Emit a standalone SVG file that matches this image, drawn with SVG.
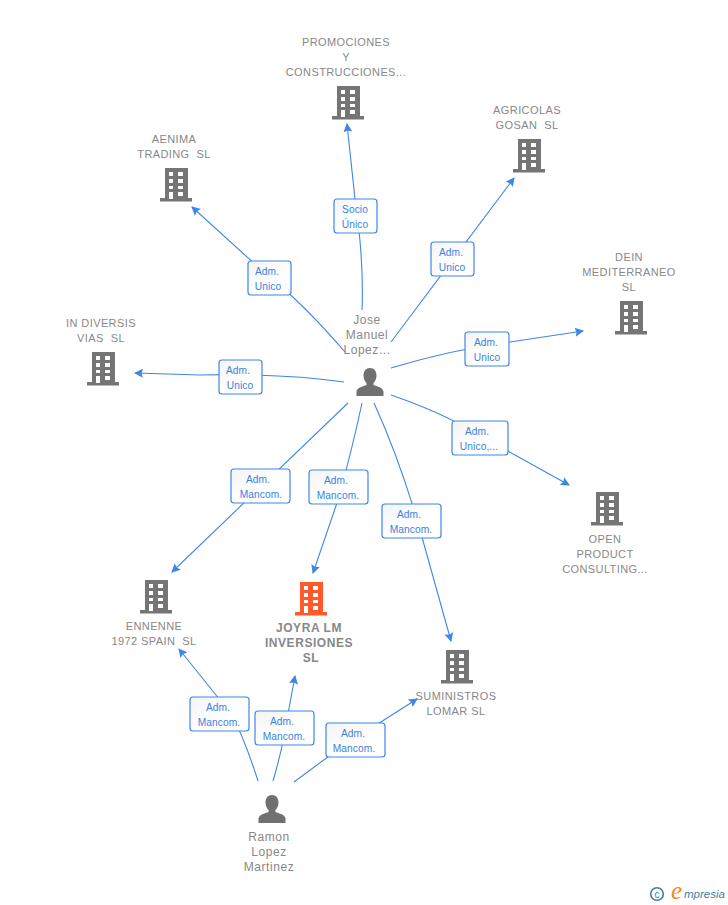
<svg xmlns="http://www.w3.org/2000/svg" width="728" height="905" viewBox="0 0 728 905">
<style>
text{font-family:"Liberation Sans",Arial,sans-serif;white-space:pre}
.n{font-size:11px;fill:#888;text-anchor:middle;letter-spacing:.4px}
.h{font-size:12px;fill:#888;text-anchor:middle;letter-spacing:.55px}
.b{font-size:12px;font-weight:bold;fill:#888;text-anchor:middle;letter-spacing:.55px}
.l{font-size:10.2px;fill:#3b7fe0;text-anchor:middle;letter-spacing:.1px;transform:translateY(-.5px)}
.c{fill:none;stroke:#3f86e6;stroke-width:1.1;marker-end:url(#a)}
.r{fill:url(#g);stroke:#3f86e6;stroke-width:1.2}
</style>
<defs>
<linearGradient id="g" x1="0" y1="0" x2="1" y2="1"><stop offset="0" stop-color="#f4f4f4"/><stop offset=".55" stop-color="#fff"/><stop offset="1" stop-color="#fff"/></linearGradient>
<marker id="a" markerUnits="userSpaceOnUse" markerWidth="12" markerHeight="12" refX="8" refY="5" orient="auto"><path d="M0 .5L9 5L0 9.500L1.500 5Z" fill="#3f86e6"/></marker>
<symbol id="bd" width="32" height="34" viewBox="0 0 32 34" overflow="visible"><path fill-rule="evenodd" fill="currentColor" d="M5 0H28V30H32V33.500H0V30H5ZM9 4V8H13V4ZM18 4V8H23V4ZM9 11V15H13V11ZM18 11V15H23V11ZM9 18V21H13V18ZM18 18V21H23V18ZM9 24V31H13V24ZM18 24V28H23V24Z"/></symbol>
<symbol id="pe" width="28" height="28" viewBox="0 0 28 28" overflow="visible"><path fill="#707070" d="M14 0C18 0 20.500 3 20.500 7.500C20.500 11 19 13.500 17.500 15V17C21 18.500 27 19.500 27.500 23.500V28H.5V23.500C1 19.500 7 18.500 10.500 17V15C9 13.500 7.500 11 7.500 7.500C7.500 3 10 0 14 0Z"/></symbol>
</defs>
<g id="connectors">
<path class="c" d="M362 310Q364 260 355 199L347 124"/>
<path class="c" d="M391 342L514 178"/>
<path class="c" d="M345 352Q300 300 268 276L192 207"/>
<path class="c" d="M391 368Q450 350 510 342L583 331"/>
<path class="c" d="M344 382Q280 373 200 375L135 373"/>
<path class="c" d="M391 395Q440 412 470 430L569 485"/>
<path class="c" d="M348 403L172 572"/>
<path class="c" d="M362 403Q352 450 338 500L313 573"/>
<path class="c" d="M374 403Q400 460 420 530L451 641"/>
<path class="c" d="M258 781Q245 740 232 715L179 649"/>
<path class="c" d="M273 781Q282 750 285 730L295 676"/>
<path class="c" d="M294 782L340 748L417 699"/>
</g>
<g id="n1"><text class="n" x="346" y="46">PROMOCIONES</text><text class="n" x="346" y="61">Y</text><text class="n" x="346" y="76">CONSTRUCCIONES...</text><use href="#bd" x="332" y="86" color="#757575"/></g>
<g id="n2"><text class="n" x="527" y="114">AGRICOLAS</text><text class="n" x="527" y="129">GOSAN  SL</text><use href="#bd" x="513" y="139" color="#757575"/></g>
<g id="n3"><text class="n" x="174" y="143">AENIMA</text><text class="n" x="174" y="158">TRADING  SL</text><use href="#bd" x="160" y="168" color="#757575"/></g>
<g id="n4"><text class="n" x="629" y="261">DEIN</text><text class="n" x="629" y="276">MEDITERRANEO</text><text class="n" x="629" y="291">SL</text><use href="#bd" x="615" y="301" color="#757575"/></g>
<g id="n5"><text class="n" x="101" y="327">IN DIVERSIS</text><text class="n" x="101" y="342">VIAS  SL</text><use href="#bd" x="87" y="352" color="#757575"/></g>
<g id="n6"><use href="#bd" x="591" y="492" color="#757575"/><text class="n" x="605" y="543">OPEN</text><text class="n" x="605" y="558">PRODUCT</text><text class="n" x="605" y="573">CONSULTING...</text></g>
<g id="n7"><use href="#bd" x="140" y="580" color="#757575"/><text class="n" x="154" y="630">ENNENNE</text><text class="n" x="154" y="645">1972 SPAIN  SL</text></g>
<g id="n8"><use href="#bd" x="295" y="582" color="#ff5a2c"/><text class="b" x="309" y="632">JOYRA LM</text><text class="b" x="309" y="647">INVERSIONES</text><text class="b" x="311" y="662">SL</text></g>
<g id="n9"><use href="#bd" x="441" y="650" color="#757575"/><text class="n" x="456" y="700">SUMINISTROS</text><text class="n" x="456" y="715">LOMAR SL</text></g>
<g id="p1"><text class="h" x="367" y="324">Jose</text><text class="h" x="367" y="339">Manuel</text><text class="h" x="367" y="354">Lopez...</text><use href="#pe" x="356" y="368"/></g>
<g id="p2"><use href="#pe" x="258" y="795"/><text class="h" x="269" y="841">Ramon</text><text class="h" x="269" y="856">Lopez</text><text class="h" x="269" y="871">Martinez</text></g>
<g id="labels">
<g><rect class="r" x="334" y="199" width="43" height="34" rx="3"/><text class="l" x="355" y="213">Socio</text><text class="l" x="355" y="228">Único</text></g>
<g><rect class="r" x="431" y="242" width="43" height="34" rx="3"/><text class="l" x="451" y="256">Adm.</text><text class="l" x="452" y="271">Unico</text></g>
<g><rect class="r" x="248" y="261" width="43" height="34" rx="3"/><text class="l" x="267" y="275">Adm.</text><text class="l" x="268" y="290">Unico</text></g>
<g><rect class="r" x="465" y="332" width="44" height="34" rx="3"/><text class="l" x="486" y="346">Adm.</text><text class="l" x="487" y="361">Unico</text></g>
<g><rect class="r" x="219" y="360" width="43" height="34" rx="3"/><text class="l" x="238" y="374">Adm.</text><text class="l" x="240" y="389">Unico</text></g>
<g><rect class="r" x="452" y="421" width="56" height="34" rx="3"/><text class="l" x="477" y="435">Adm.</text><text class="l" x="479" y="450">Unico,...</text></g>
<g><rect class="r" x="231" y="469" width="59" height="34" rx="3"/><text class="l" x="258" y="483">Adm.</text><text class="l" x="261" y="498">Mancom.</text></g>
<g><rect class="r" x="309" y="470" width="59" height="34" rx="3"/><text class="l" x="336" y="484">Adm.</text><text class="l" x="338" y="499">Mancom.</text></g>
<g><rect class="r" x="382" y="504" width="59" height="34" rx="3"/><text class="l" x="409" y="518">Adm.</text><text class="l" x="411" y="533">Mancom.</text></g>
<g><rect class="r" x="190" y="697" width="59" height="34" rx="3"/><text class="l" x="218" y="711">Adm.</text><text class="l" x="219" y="726">Mancom.</text></g>
<g><rect class="r" x="255" y="711" width="59" height="34" rx="3"/><text class="l" x="282" y="725">Adm.</text><text class="l" x="284" y="740">Mancom.</text></g>
<g><rect class="r" x="326" y="723" width="59" height="34" rx="3"/><text class="l" x="353" y="737">Adm.</text><text class="l" x="354" y="752">Mancom.</text></g>
</g>
<g id="logo"><circle cx="657" cy="894" r="6.300" fill="none" stroke="#3f7f9f" stroke-width="1.600"/><text x="657" y="897.500" font-size="10" fill="#3f7f9f" text-anchor="middle">c</text><text x="671" y="899" font-size="25" font-style="italic" fill="#f08a1c" style="font-family:'Liberation Serif',serif">e</text><text x="684" y="898" font-size="11.500" font-style="italic" fill="#3f7f9f">mpresia</text></g>
</svg>
